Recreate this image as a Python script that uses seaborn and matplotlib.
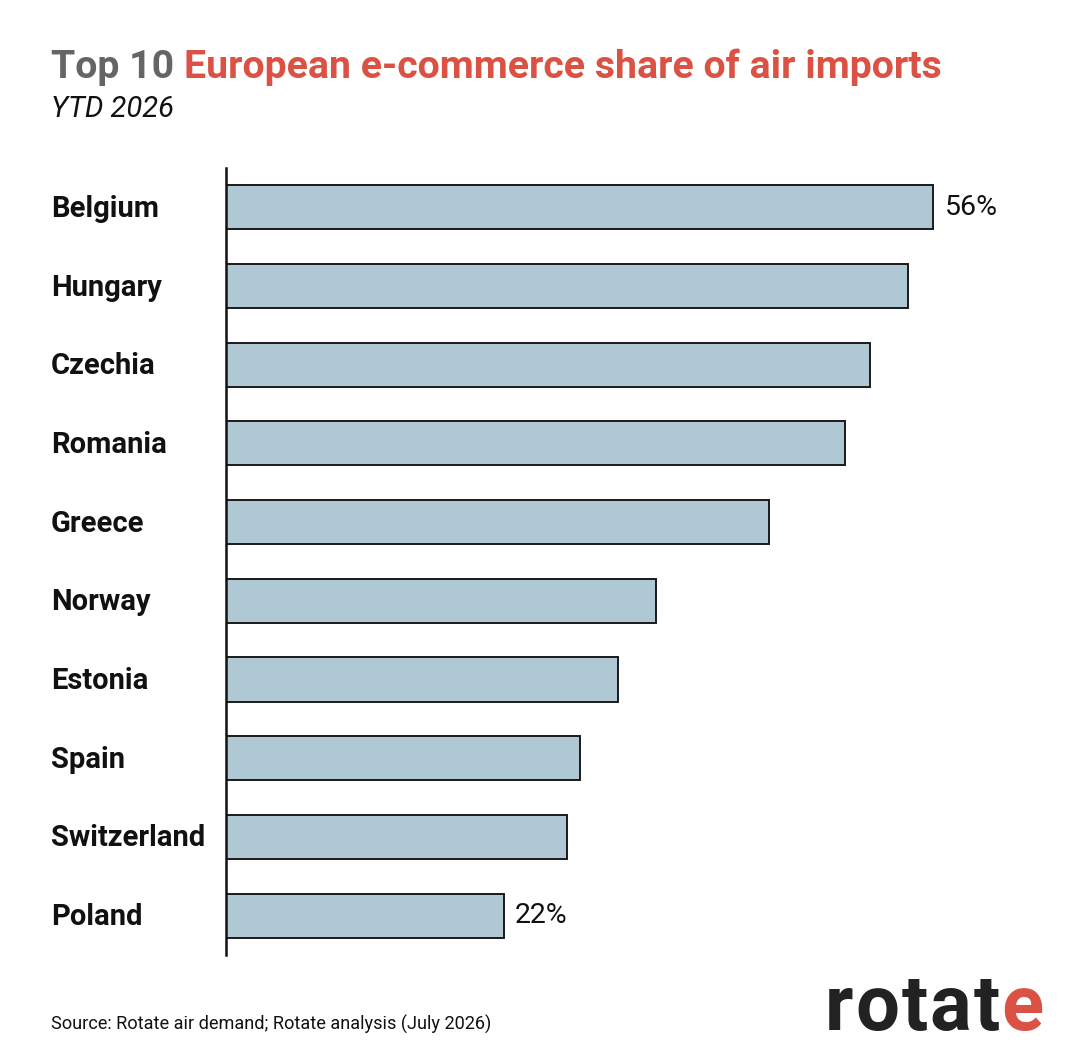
import matplotlib
matplotlib.use("Agg")
import matplotlib.pyplot as plt
import seaborn as sns
import pandas as pd

# data
countries = ["Belgium", "Hungary", "Czechia", "Romania", "Greece",
             "Norway", "Estonia", "Spain", "Switzerland", "Poland"]
shares = [56, 54, 51, 49, 43, 34, 31, 28, 27, 22]
labelled = ["Belgium", "Poland"]

title_grey = "#656565"
title_red = "#DB5143"
bar_colour = "#AFC8D4"

sns.set_theme(style="white")
plt.rcParams["font.family"] = ["Roboto", "DejaVu Sans"]

df = pd.DataFrame({"country": countries, "share": shares})

fig = plt.figure(figsize=(10.8, 10.62), dpi=100)
ax = fig.add_axes([0.2093, 0.1008, 0.772, 0.741])

sns.barplot(data=df, x="share", y="country", orient="h", color=bar_colour,
            saturation=1, width=0.56, edgecolor="#1a1a1a", linewidth=1.4, ax=ax)

ax.set_xlim(0, 66)
ax.set_ylim(9.5, -0.5)
ax.set_xlabel("")
ax.set_ylabel("")
ax.set_xticks([])
ax.tick_params(axis="y", length=0, pad=0)
ax.set_yticklabels([])
for s in ["top", "right", "bottom"]:
    ax.spines[s].set_visible(False)
ax.spines["left"].set_linewidth(1.8)
ax.spines["left"].set_color("#111111")

# country names, left aligned at the figure margin
for i, c in enumerate(countries):
    ax.annotate(c, xy=(51 / 1080, i + 0.02), xycoords=("figure fraction", "data"),
                ha="left", va="center", fontsize=21, fontweight="bold",
                color="#111111")

# value labels on first and last bar
for i, (c, v) in enumerate(zip(countries, shares)):
    if c in labelled:
        ax.annotate(f"{v}%", xy=(v, i), xytext=(8, 0), textcoords="offset points",
                    ha="left", va="center", fontsize=20.5, color="#111111")

# two-colour title
renderer = fig.canvas.get_renderer()
t1 = fig.text(51 / 1080, 1 - 78 / 1062, "Top 10 ", fontsize=28.3,
              fontweight="bold", color=title_grey, ha="left", va="baseline")
ext = t1.get_window_extent(renderer)
fig.text(ext.x1 / fig.bbox.width, 1 - 78 / 1062, "European e-commerce share of air imports",
         fontsize=28.3, fontweight="bold", color=title_red, ha="left", va="baseline")
fig.text(51 / 1080, 1 - 117 / 1062, "YTD 2026", fontsize=21, fontstyle="italic",
         color="#111111", ha="left", va="baseline")

fig.text(51 / 1080, 1 - 1030 / 1062, "Source: Rotate air demand; Rotate analysis (July 2026)",
         fontsize=13.1, color="#111111", ha="left", va="baseline")

# logo, letters spaced out a little
x = 825
for k, ch in enumerate("rotate"):
    col = title_red if k == 5 else "#222222"
    t = fig.text(x / 1080, 1 - 1030 / 1062, ch, fontsize=56, fontweight="bold",
                 color=col, ha="left", va="baseline")
    x = t.get_window_extent(renderer).x1 + 2

fig.savefig("out.png", dpi=100, facecolor="white")
